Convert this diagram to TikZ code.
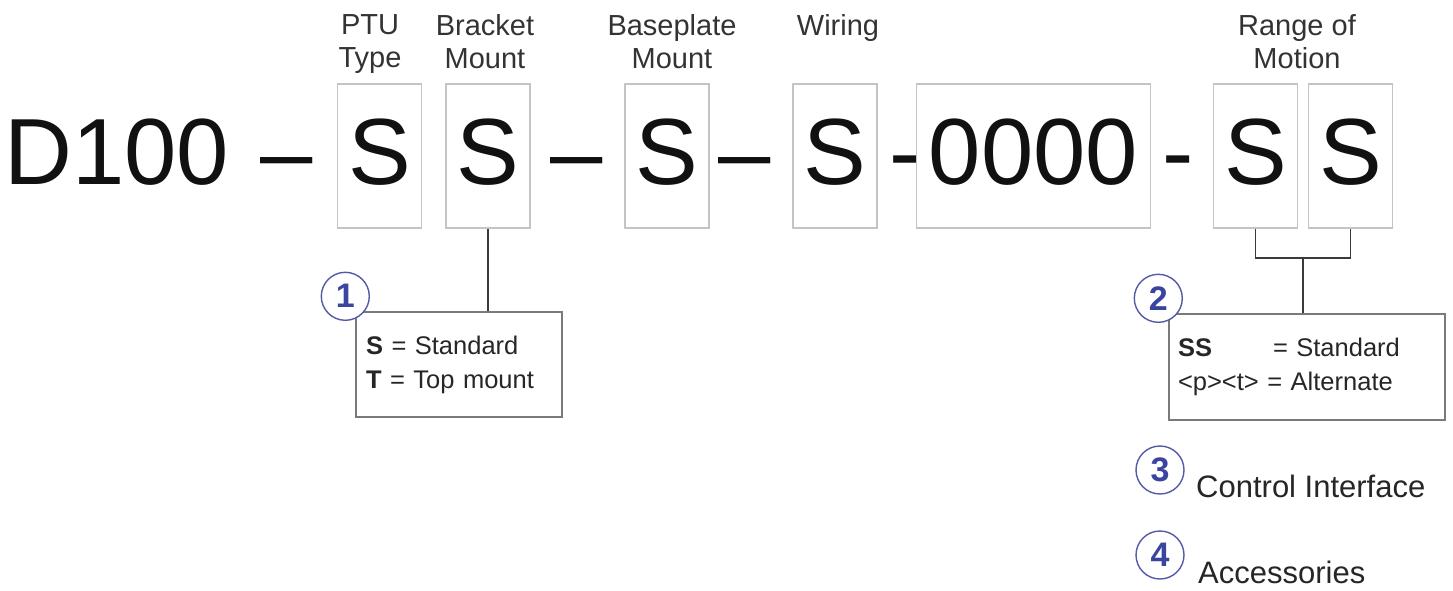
\documentclass[tikz,border=0pt]{standalone}
\usepackage{fontspec}
\setmainfont{Liberation Sans}
\usepackage{tikz}
\usetikzlibrary{positioning,calc}
\definecolor{ink}{HTML}{111111}
\definecolor{slotline}{HTML}{C4C4C4}
\definecolor{legline}{HTML}{7A7A7A}
\definecolor{wireline}{HTML}{3A3A3A}
\definecolor{ringblue}{HTML}{5659A6}
\definecolor{numblue}{HTML}{3A45A0}

\begin{document}
\begin{tikzpicture}[x=1pt,y=-1pt,
  big/.style={font=\fontsize{94}{100}\selectfont,inner sep=0pt,text=ink},
  slot/.style={big,draw=slotline,line width=1.4pt,text height=100pt,text depth=44pt,
               minimum width=84pt,anchor=base},
  head/.style={font=\fontsize{29}{33}\selectfont,align=center,inner sep=0pt,
               anchor=north,text=black!80},
  legend/.style={draw=legline,line width=1.4pt,font=\fontsize{25.5}{34}\selectfont,
                 align=left,text=black!85,inner sep=0pt,minimum height=105pt},
  numcirc/.style={circle,draw=ringblue,line width=1.4pt,fill=white,minimum size=48pt,
                  inner sep=0pt,text=numblue,font=\fontsize{34}{34}\selectfont\bfseries},
  note/.style={anchor=base west,inner sep=0pt,font=\fontsize{31}{31}\selectfont,text=black!85},
  wire/.style={draw=wireline,line width=1.8pt}
]
\useasboundingbox (0,0) rectangle (1453,591);

\node[big,anchor=base west] (model) at (4,184) {D100};
\node[big,anchor=base] (d1) at (286.5,184) {–};
\node[slot] (ptu) at (379.5,184) {S};
\node[slot] (brk) at (488,184) {S};
\node[big,anchor=base] (d2) at (577,184) {–};
\node[slot] (base) at (667,184) {S};
\node[big,anchor=base] (d3) at (745,184) {–};
\node[slot] (wrg) at (835,184) {S};
\node[big,anchor=base] (d4) at (905,184) {-};
\node[slot,minimum width=234pt] (num) at (1033.5,184) {0000};
\node[big,anchor=base] (d5) at (1178,184) {-};
\node[slot] (pan) at (1255.5,184) {S};
\node[slot] (tilt) at (1350.5,184) {S};

\node[head] (hptu) at (370,14) {PTU\\Type};
\node[head] (hbrk) at (485,14) {Bracket\\Mount};
\node[head] (hbase) at (672,14) {Baseplate\\Mount};
\node[head] (hwrg) at (838,14) {Wiring};
\node[head] (hrange) at (1297,14) {Range of\\Motion};

\node[legend,inner xsep=10pt,text width=186pt] (leg1) at (459,364.5)
  {\textbf{S} = Standard\\\textbf{T} = Top mount};
\node[legend,inner xsep=9pt,text width=258pt,minimum height=106pt] (leg2) at (1307,367)
  {\makebox[95pt][l]{\textbf{SS}}= Standard\\<p><t> = Alternate};

\draw[wire] (brk.south) -- (brk.south |- leg1.north);
\coordinate (join) at ($(pan.south)!0.5!(tilt.south)+(0,29)$);
\draw[wire] (pan.south) |- (join) -| (tilt.south);
\draw[wire] (join) -- (join |- leg2.north);

\node[numcirc] (n1) at ([shift={(-10,-15)}]leg1.north west) {1};
\node[numcirc] (n2) at ([shift={(-10,-15)}]leg2.north west) {2};
\node[numcirc] (n3) at (1160,470) {3};
\node[numcirc] (n4) at (1160,555) {4};
\node[note] (ctrl) at ([shift={(36,27)}]n3.center) {Control Interface};
\node[note] (acc) at ([shift={(38,28)}]n4.center) {Accessories};
\end{tikzpicture}
\end{document}
